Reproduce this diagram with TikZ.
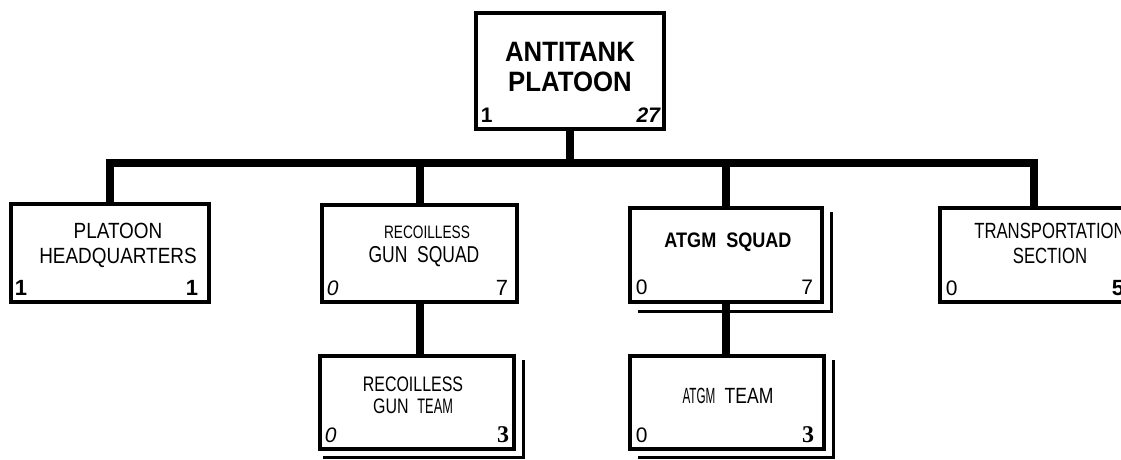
\documentclass[tikz,border=0pt]{standalone}
\usepackage{fontspec}
\setmainfont{Liberation Sans}
\newfontfamily\fA[FakeStretch=0.76]{Liberation Sans}
\newfontfamily\fB[FakeStretch=0.86]{Liberation Sans}
\newfontfamily\fC[FakeStretch=0.92]{Liberation Sans}
\newfontfamily\fS{Liberation Serif}
\usetikzlibrary{calc}
\begin{document}
\begin{tikzpicture}[x=1pt,y=-1pt,
  box/.style={draw, line width=4.5pt, inner sep=0pt, fill=none},
  conn/.style={line width=8pt},
  shadowline/.style={line width=2.5pt},
  ttl/.style={inner sep=0pt, align=center},
  num/.style={inner sep=0pt}
]
\useasboundingbox (0,0) rectangle (1121,460);
\clip (0,0) rectangle (1121,460);
% boxes
\node[box, minimum width=188pt, minimum height=116pt] (top) at (570,71) {};
\node[box, minimum width=198pt, minimum height=98pt] (hq) at (110,253) {};
\node[box, minimum width=195pt, minimum height=97pt] (squad) at (419.5,253.5) {};
\node[box, minimum width=192pt, minimum height=94pt] (atgm) at (726,255) {};
\node[box, minimum width=188pt, minimum height=94pt] (trans) at (1034,255) {};
\node[box, minimum width=194pt, minimum height=93pt] (gunteam) at (417,402.5) {};
\node[box, minimum width=194pt, minimum height=93pt] (atgmteam) at (727,402.5) {};
% shadows
\draw[shadowline] ($(atgm.south west)+(10,7)$) -- ($(atgm.south east)+(7,7)$) -- ($(atgm.north east)+(7,6)$);
\draw[shadowline] ($(gunteam.south west)+(5,6)$) -- ($(gunteam.south east)+(7,6)$) -- ($(gunteam.north east)+(7,6)$);
\draw[shadowline] ($(atgmteam.south west)+(10,6)$) -- ($(atgmteam.south east)+(7,6)$) -- ($(atgmteam.north east)+(7,6)$);
% connectors
\coordinate (bar) at (570,163);
\draw[conn] (top.south) -- (top.south |- bar);
\draw[conn, line join=miter] (hq.north) -- (hq.north |- bar) -- (trans.north |- bar) -- (trans.north);
\draw[conn] (squad.north) -- (squad.north |- bar);
\draw[conn] (atgm.north) -- (atgm.north |- bar);
\draw[conn] (squad.south) -- (squad.south |- gunteam.north);
\draw[conn] (atgm.south) -- (atgm.south |- atgmteam.north);
% titles
\node[ttl, font=\fC\bfseries\fontsize{28}{30}\selectfont] (topT) at (570,67) {ANTITANK\\PLATOON};
\node[ttl, font=\fB\fontsize{22}{25}\selectfont] (hqT) at (118,245) {PLATOON\\HEADQUARTERS};
\node[ttl, font=\fA\fontsize{18}{18}\selectfont] (squadT1) at (427,232) {RECOILLESS};
\node[ttl, font=\fA\fontsize{23}{23}\selectfont] (squadT2) at (424,257) {GUN\ \ SQUAD};
\node[ttl, font=\fB\bfseries\fontsize{21}{21}\selectfont] (atgmT) at (728,242) {ATGM\ \ SQUAD};
\node[ttl, font=\fA\fontsize{22}{25}\selectfont] (transT) at (1050,243) {TRANSPORTATION\\SECTION};
\node[ttl, font=\fA\fontsize{21}{22}\selectfont] (gunteamT) at (413,395) {RECOILLESS\\GUN\ \ \scalebox{0.8}[1]{TEAM}};
\node[ttl, font=\fA\fontsize{22}{22}\selectfont] (atgmteamT) at (728,396) {\scalebox{0.7}[1]{ATGM}\ \ \scalebox{1.05}[1]{TEAM}};
% numbers
\node[num, anchor=base west, font=\bfseries\fontsize{21}{21}\selectfont] (topL) at ($(top.south west)+(7,-9)$) {1};
\node[num, anchor=base east, font=\bfseries\itshape\fontsize{21}{21}\selectfont] (topR) at ($(top.south east)+(-6,-9)$) {27};
\node[num, anchor=base west, font=\bfseries\fontsize{22}{22}\selectfont] (hqL) at ($(hq.south west)+(6,-9)$) {1};
\node[num, anchor=base east, font=\bfseries\fontsize{22}{22}\selectfont] (hqR) at ($(hq.south east)+(-13,-9)$) {1};
\node[num, anchor=base west, font=\itshape\fontsize{21}{21}\selectfont] (squadL) at ($(squad.south west)+(7,-9)$) {0};
\node[num, anchor=base east, font=\fontsize{22}{22}\selectfont] (squadR) at ($(squad.south east)+(-11,-9)$) {7};
\node[num, anchor=base west, font=\fontsize{21}{21}\selectfont] (atgmL) at ($(atgm.south west)+(8,-10)$) {0};
\node[num, anchor=base east, font=\fontsize{21}{21}\selectfont] (atgmR) at ($(atgm.south east)+(-11,-10)$) {7};
\node[num, anchor=base west, font=\fontsize{21}{21}\selectfont] (transL) at ($(trans.south west)+(8,-9)$) {0};
\node[num, anchor=base east, font=\bfseries\fontsize{22}{22}\selectfont] (transR) at ($(trans.south east)+(-6,-9)$) {5};
\node[num, anchor=base west, font=\itshape\fontsize{21}{21}\selectfont] (gunteamL) at ($(gunteam.south west)+(7,-9)$) {0};
\node[num, anchor=base east, font=\fS\bfseries\fontsize{24}{24}\selectfont] (gunteamR) at ($(gunteam.south east)+(-7,-9)$) {3};
\node[num, anchor=base west, font=\fontsize{21}{21}\selectfont] (atgmteamL) at ($(atgmteam.south west)+(8,-9)$) {0};
\node[num, anchor=base east, font=\fS\bfseries\fontsize{24}{24}\selectfont] (atgmteamR) at ($(atgmteam.south east)+(-12,-9)$) {3};
\end{tikzpicture}
\end{document}
